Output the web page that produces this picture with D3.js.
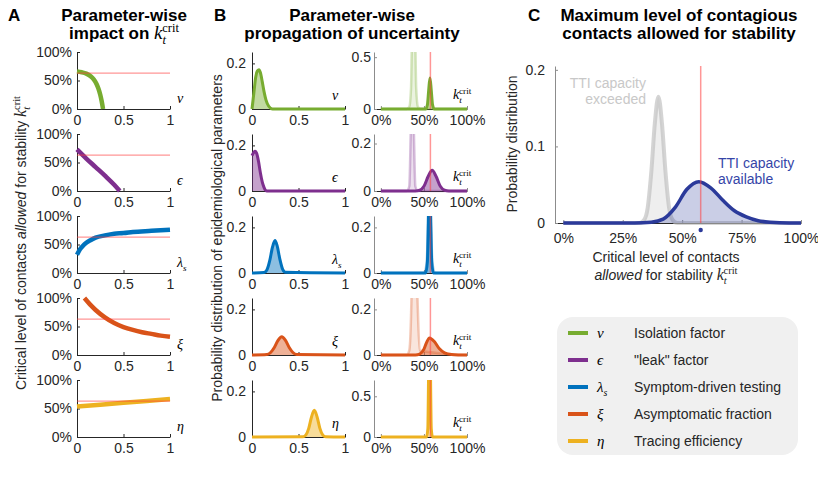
<!DOCTYPE html>
<html>
<head>
<meta charset="utf-8">
<script src="https://cdn.jsdelivr.net/npm/d3@7"></script>
<style>
  body { margin: 0; background: #fff; }
  svg { display: block; font-family: "Liberation Sans", Arial, sans-serif; }
</style>
</head>
<body>
<svg id="chart" width="818" height="484"></svg>
<script>
// parameters, in panel order
var paramSymbols = ['ν', 'ϵ', 'λ', 'ξ', 'η'];
var paramSubs = ['', '', 's', '', ''];
var paramLabels = ['Isolation factor', '"leak" factor', 'Symptom-driven testing',
                   'Asymptomatic fraction', 'Tracing efficiency'];

// A: critical level of contacts vs parameter value
var impactX = [
  [0, 0.05, 0.1, 0.15, 0.18, 0.21, 0.23, 0.25, 0.265, 0.28],
  [0, 0.1, 0.2, 0.3, 0.4, 0.46],
  [0, 0.03, 0.06, 0.1, 0.15, 0.2, 0.3, 0.4, 0.5, 0.6, 0.8, 1],
  [0.08, 0.15, 0.2, 0.3, 0.4, 0.5, 0.6, 0.7, 0.8, 0.9, 1],
  [0, 0.5, 1]
];
var impactY = [
  [0.66, 0.645, 0.62, 0.57, 0.52, 0.44, 0.36, 0.25, 0.14, 0],
  [0.73, 0.57, 0.42, 0.27, 0.11, 0],
  [0.32, 0.41, 0.47, 0.53, 0.58, 0.62, 0.66, 0.69, 0.70, 0.72, 0.74, 0.76],
  [1.0, 0.87, 0.79, 0.66, 0.56, 0.49, 0.44, 0.40, 0.37, 0.34, 0.32],
  [0.535, 0.6, 0.665]
];
var impactRef = 0.63;

// B left: distribution of each parameter
var priorX = [
  [0, 0.02, 0.04, 0.06, 0.075, 0.09, 0.11, 0.13, 0.15, 0.18, 0.22, 1],
  [0, 0.02, 0.035, 0.05, 0.07, 0.09, 0.11, 0.13, 0.16, 1],
  [0, 0.13, 0.16, 0.19, 0.22, 0.247, 0.27, 0.30, 0.33, 0.36, 1],
  [0, 0.16, 0.2, 0.24, 0.28, 0.32, 0.36, 0.40, 0.44, 0.48, 1],
  [0, 0.55, 0.58, 0.61, 0.64, 0.67, 0.70, 0.73, 0.76, 0.79, 1]
];
var priorY = [
  [0, 0.07, 0.14, 0.168, 0.172, 0.16, 0.12, 0.075, 0.04, 0.012, 0, 0],
  [0.155, 0.17, 0.174, 0.165, 0.13, 0.08, 0.04, 0.015, 0, 0],
  [0, 0.002, 0.013, 0.053, 0.113, 0.142, 0.12, 0.06, 0.016, 0.003, 0],
  [0, 0.002, 0.011, 0.033, 0.064, 0.08, 0.064, 0.033, 0.011, 0.002, 0],
  [0, 0.001, 0.009, 0.038, 0.088, 0.117, 0.088, 0.038, 0.009, 0.001, 0]
];

// B right: resulting distribution of k_t^crit (main) and the pale exceeded-capacity one
var kcritX = [
  [0, 0.52, 0.54, 0.555, 0.57, 0.585, 0.60, 0.62, 1],
  [0, 0.4, 0.45, 0.5, 0.55, 0.595, 0.64, 0.69, 0.74, 0.79, 1],
  [0, 0.52, 0.54, 0.553, 0.565, 0.577, 0.59, 0.61, 1],
  [0, 0.4, 0.45, 0.5, 0.53, 0.565, 0.62, 0.68, 0.74, 0.82, 0.9, 1],
  [0, 0.53, 0.545, 0.555, 0.565, 0.575, 0.585, 0.60, 1]
];
var kcritY = [
  [0, 0, 0.04, 0.18, 0.3, 0.18, 0.04, 0, 0],
  [0, 0, 0.003, 0.02, 0.062, 0.087, 0.062, 0.02, 0.003, 0, 0],
  [0, 0, 0.05, 0.27, 0.45, 0.27, 0.05, 0, 0],
  [0, 0, 0.004, 0.026, 0.054, 0.075, 0.059, 0.027, 0.009, 0.002, 0.0005, 0],
  [0, 0, 0.1, 0.9, 2, 0.9, 0.1, 0, 0]
];
var kcritPaleX = [
  [0, 0.3, 0.33, 0.35, 0.365, 0.38, 0.395, 0.41, 0.43, 0.46, 1],
  [0, 0.3, 0.33, 0.35, 0.365, 0.38, 0.40, 0.43, 1],
  [0, 0.5, 0.53, 0.55, 0.565, 0.58, 0.60, 0.63, 1],
  [0, 0.3, 0.33, 0.355, 0.37, 0.385, 0.40, 0.425, 0.45, 1],
  []
];
var kcritPaleY = [
  [0, 0, 0.02, 0.2, 0.9, 1.2, 0.9, 0.2, 0.02, 0, 0],
  [0, 0, 0.02, 0.3, 0.5, 0.3, 0.02, 0, 0],
  [0, 0, 0.04, 0.22, 0.35, 0.22, 0.04, 0, 0],
  [0, 0, 0.02, 0.25, 0.6, 0.7, 0.6, 0.25, 0.02, 0],
  []
];
var kcritRef = 0.575;
var kcritYMax = [0.55, 0.24, 0.25, 0.25, 0.7];
var kcritYTicks = [[0, 0.5], [0, 0.2], [0, 0.2], [0, 0.2], [0, 0.5]];
var priorYMax = 0.25;
var priorYTicks = [0, 0.2];

// C: overall distribution of k_t^crit
var exceededX = [0, 0.32, 0.34, 0.355, 0.37, 0.385, 0.40, 0.415, 0.43, 0.445, 0.46, 0.48, 1];
var exceededY = [0, 0, 0.004, 0.02, 0.066, 0.13, 0.165, 0.13, 0.066, 0.02, 0.004, 0, 0];
var availableX = [0, 0.3, 0.37, 0.42, 0.47, 0.52, 0.57, 0.62, 0.67, 0.72, 0.77, 0.82, 0.87, 0.95, 1];
var availableY = [0, 0, 0.001, 0.005, 0.02, 0.044, 0.054, 0.046, 0.03, 0.016, 0.008, 0.003, 0.001, 0, 0];
var overallRef = 0.578;

var unitTicks = [0, 0.5, 1];
var unitTickLabels = ['0', '0.5', '1'];
var pctTickLabels = ['0%', '50%', '100%'];
var quarterTicks = [0, 0.25, 0.5, 0.75, 1];
var quarterTickLabels = ['0%', '25%', '50%', '75%', '100%'];
var overallYTicks = [0, 0.1, 0.2];

(function () {
    'use strict';

    var svg = d3.select('#chart');
    var serif = '"Liberation Serif", "DejaVu Serif", serif';
    var colors = ['#77ac30', '#7e2f8e', '#0072bd', '#d95319', '#edb120'];
    var red = '#ff4040';
    var rowTops = [52, 134, 216, 298, 380];
    var rowH = 57;

    drawTitles();
    drawPanelA();
    drawPanelB();
    drawPanelC();
    drawLegend();

    function pts(xs, ys) {
        return xs.map(function (d, i) { return [d, ys[i]]; });
    }

    // k with subscript t and superscript crit, stacked like LaTeX
    function kcrit(text, size) {
        text.append('tspan').attr('font-family', serif).attr('font-style', 'italic')
            .attr('font-weight', 'normal').attr('font-size', size).text('k');
        text.append('tspan').attr('font-family', serif).attr('font-style', 'italic')
            .attr('font-weight', 'normal').attr('font-size', size * 0.66)
            .attr('dy', size * 0.25).text('t');
        text.append('tspan').attr('font-family', serif).attr('font-style', 'normal')
            .attr('font-weight', 'normal').attr('font-size', size * 0.66)
            .attr('dx', -size * 0.2).attr('dy', -size * 0.62).text('crit');
    }

    function symbol(text, i, size) {
        text.append('tspan').attr('font-family', serif).attr('font-style', 'italic')
            .attr('font-size', size).text(paramSymbols[i]);
        if (paramSubs[i]) {
            text.append('tspan').attr('font-family', serif).attr('font-style', 'italic')
                .attr('font-size', size * 0.65).attr('dy', size * 0.25).text(paramSubs[i]);
        }
    }

    function axes(g, x, y, xt, xl, yt, yl, col, padX, padY) {
        var ax = g.append('g').attr('transform', 'translate(0,' + y.range()[0] + ')')
            .call(d3.axisBottom(x).tickValues(xt).tickFormat(function (d, i) { return xl[i]; })
                  .tickSizeInner(-3).tickSizeOuter(0).tickPadding(padX));
        var ay = g.append('g').attr('transform', 'translate(' + x.range()[0] + ',0)')
            .call(d3.axisLeft(y).tickValues(yt).tickFormat(function (d, i) { return yl[i]; })
                  .tickSizeInner(-3).tickSizeOuter(0).tickPadding(padY));
        [ax, ay].forEach(function (a) {
            a.select('.domain').attr('stroke', col);
            a.selectAll('.tick line').attr('stroke', col);
            a.selectAll('text').attr('font-size', 14).attr('fill', '#262626')
             .attr('font-family', '"Liberation Sans", Arial, sans-serif');
        });
        ax.select('.domain').attr('stroke', '#262626');
    }

    function drawTitles() {
        var t = [['A', 8], ['B', 214], ['C', 528]];
        t.forEach(function (d) {
            svg.append('text').attr('x', d[1]).attr('y', 21).attr('font-size', 17)
               .attr('font-weight', 'bold').text(d[0]);
        });
        function title(cx, l1, l2) {
            svg.append('text').attr('x', cx).attr('y', 21).attr('text-anchor', 'middle')
               .attr('font-size', 17).attr('font-weight', 'bold').text(l1);
            var b = svg.append('text').attr('x', cx).attr('y', 39).attr('text-anchor', 'middle')
                       .attr('font-size', 17).attr('font-weight', 'bold');
            b.append('tspan').text(l2);
            return b;
        }
        kcrit(title(124, 'Parameter-wise', 'impact on '), 19);
        title(352, 'Parameter-wise', 'propagation of uncertainty');
        title(679, 'Maximum level of contagious', 'contacts allowed for stability');

        var ya = svg.append('text').attr('transform', 'translate(26,243) rotate(-90)')
                    .attr('text-anchor', 'middle').attr('font-size', 14).attr('fill', '#262626');
        ya.append('tspan').text('Critical level of contacts ');
        ya.append('tspan').attr('font-style', 'italic').text('allowed');
        ya.append('tspan').text(' for stability ');
        kcrit(ya, 16);

        svg.append('text').attr('transform', 'translate(222,238) rotate(-90)')
           .attr('text-anchor', 'middle').attr('font-size', 14).attr('fill', '#262626')
           .text('Probability distribution of epidemiological parameters');
    }

    function drawPanelA() {
        rowTops.forEach(function (top, i) {
            var x = d3.scaleLinear().domain([0, 1]).range([77, 170]);
            var y = d3.scaleLinear().domain([0, 1]).range([top + rowH, top]);
            var g = svg.append('g');
            axes(g, x, y, unitTicks, unitTickLabels, unitTicks, pctTickLabels, '#262626', 6, 5);
            var line = d3.line().x(function (d) { return x(d[0]); })
                         .y(function (d) { return y(d[1]); }).curve(d3.curveMonotoneX);
            g.append('path').attr('d', line(pts(impactX[i], impactY[i])))
             .attr('fill', 'none').attr('stroke', colors[i]).attr('stroke-width', 4.5);
            g.append('line').attr('x1', x(0)).attr('x2', x(1))
             .attr('y1', y(impactRef)).attr('y2', y(impactRef))
             .attr('stroke', red).attr('stroke-opacity', 0.55).attr('stroke-width', 1.3);
            symbol(g.append('text').attr('x', x(1) + 7).attr('y', top + rowH - 6), i, 14);
        });
    }

    function dist(g, x, y, xs, ys, col, fillOp, strokeOp, sw) {
        if (!xs.length) return;
        var data = pts(xs, ys);
        var area = d3.area().x(function (d) { return x(d[0]); }).y0(y(0))
                     .y1(function (d) { return y(d[1]); }).curve(d3.curveMonotoneX);
        var line = d3.line().x(function (d) { return x(d[0]); })
                     .y(function (d) { return y(d[1]); }).curve(d3.curveMonotoneX);
        g.append('path').attr('d', area(data)).attr('fill', col).attr('fill-opacity', fillOp);
        g.append('path').attr('d', line(data)).attr('fill', 'none').attr('stroke', col)
         .attr('stroke-opacity', strokeOp).attr('stroke-width', sw);
    }

    function drawPanelB() {
        rowTops.forEach(function (top, i) {
            var bottom = top + rowH;
            // left column
            var xl = d3.scaleLinear().domain([0, 1]).range([252, 345]);
            var yl = d3.scaleLinear().domain([0, priorYMax]).range([bottom, top]);
            var gl = svg.append('g');
            axes(gl, xl, yl, unitTicks, unitTickLabels, priorYTicks, ['0', '0.2'], '#262626', 6, 6);
            dist(gl, xl, yl, priorX[i], priorY[i], colors[i], 0.45, 1, 3);
            symbol(gl.append('text').attr('x', 332).attr('y', bottom - 9), i, 14);

            // right column
            var xr = d3.scaleLinear().domain([-0.08, 1]).range([374, 467]);
            var yr = d3.scaleLinear().domain([0, kcritYMax[i]]).range([bottom, top]);
            var gr = svg.append('g');
            var cid = 'clipB' + i;
            gr.append('clipPath').attr('id', cid).append('rect')
              .attr('x', 374).attr('y', top).attr('width', 93).attr('height', rowH + 4);
            axes(gr, xr, yr, unitTicks, pctTickLabels, kcritYTicks[i],
                 kcritYTicks[i].map(String), '#8c8c8c', 6, 3);
            var inner = gr.append('g').attr('clip-path', 'url(#' + cid + ')');
            dist(inner, xr, yr, kcritPaleX[i], kcritPaleY[i], colors[i], 0.15, 0.3, 2.5);
            dist(inner, xr, yr, kcritX[i], kcritY[i], colors[i], 0.45, 1, 3);
            inner.append('line').attr('x1', xr(kcritRef)).attr('x2', xr(kcritRef))
                 .attr('y1', yr(0)).attr('y2', top)
                 .attr('stroke', red).attr('stroke-opacity', 0.55).attr('stroke-width', 1.5);
            kcrit(gr.append('text').attr('x', 453).attr('y', bottom - 10), 14);
        });
    }

    function drawPanelC() {
        var x = d3.scaleLinear().domain([-0.035, 1]).range([555, 801]);
        var y = d3.scaleLinear().domain([0, 0.205]).range([223, 66]);
        var g = svg.append('g');
        axes(g, x, y, quarterTicks, quarterTickLabels, overallYTicks, ['0', '0.1', '0.2'],
             '#8c8c8c', 10, 10);
        dist(g, x, y, exceededX, exceededY, '#bdbdbd', 0.25, 0.65, 4);
        dist(g, x, y, availableX, availableY, '#2b3a9a', 0.25, 1, 3.5);
        g.append('line').attr('x1', x(overallRef)).attr('x2', x(overallRef))
         .attr('y1', y(0)).attr('y2', y(0.205))
         .attr('stroke', red).attr('stroke-opacity', 0.55).attr('stroke-width', 1.5);
        g.append('circle').attr('cx', x(overallRef)).attr('cy', 230).attr('r', 2.2)
         .attr('fill', '#2b3a9a');

        var gray = g.append('text').attr('text-anchor', 'end').attr('font-size', 14)
                    .attr('fill', '#c8c8c8');
        gray.append('tspan').attr('x', 646).attr('y', 88).text('TTI capacity');
        gray.append('tspan').attr('x', 646).attr('y', 104).text('exceeded');
        var blue = g.append('text').attr('font-size', 14).attr('fill', '#3545a8');
        blue.append('tspan').attr('x', 718).attr('y', 168).text('TTI capacity');
        blue.append('tspan').attr('x', 718).attr('y', 184).text('available');

        g.append('text').attr('x', 666).attr('y', 262).attr('text-anchor', 'middle')
         .attr('font-size', 14).attr('fill', '#262626').text('Critical level of contacts');
        var l2 = g.append('text').attr('x', 666).attr('y', 280).attr('text-anchor', 'middle')
                  .attr('font-size', 14).attr('fill', '#262626');
        l2.append('tspan').attr('font-style', 'italic').text('allowed');
        l2.append('tspan').text(' for stability ');
        kcrit(l2, 16);

        g.append('text').attr('transform', 'translate(517,144) rotate(-90)')
         .attr('text-anchor', 'middle').attr('font-size', 14).attr('fill', '#262626')
         .text('Probability distribution');
    }

    function drawLegend() {
        var g = svg.append('g');
        g.append('rect').attr('x', 557).attr('y', 317).attr('width', 241).attr('height', 138)
         .attr('rx', 16).attr('fill', '#f0f0f0');
        var rowY = d3.scaleLinear().domain([0, 4]).range([333, 441]);
        paramLabels.forEach(function (lab, i) {
            var cy = rowY(i);
            g.append('line').attr('x1', 568).attr('x2', 588).attr('y1', cy).attr('y2', cy)
             .attr('stroke', colors[i]).attr('stroke-width', 4);
            symbol(g.append('text').attr('x', 597).attr('y', cy + 5), i, 15);
            g.append('text').attr('x', 634).attr('y', cy + 5).attr('font-size', 14)
             .attr('fill', '#262626').text(lab);
        });
    }
})();
</script>
</body>
</html>
